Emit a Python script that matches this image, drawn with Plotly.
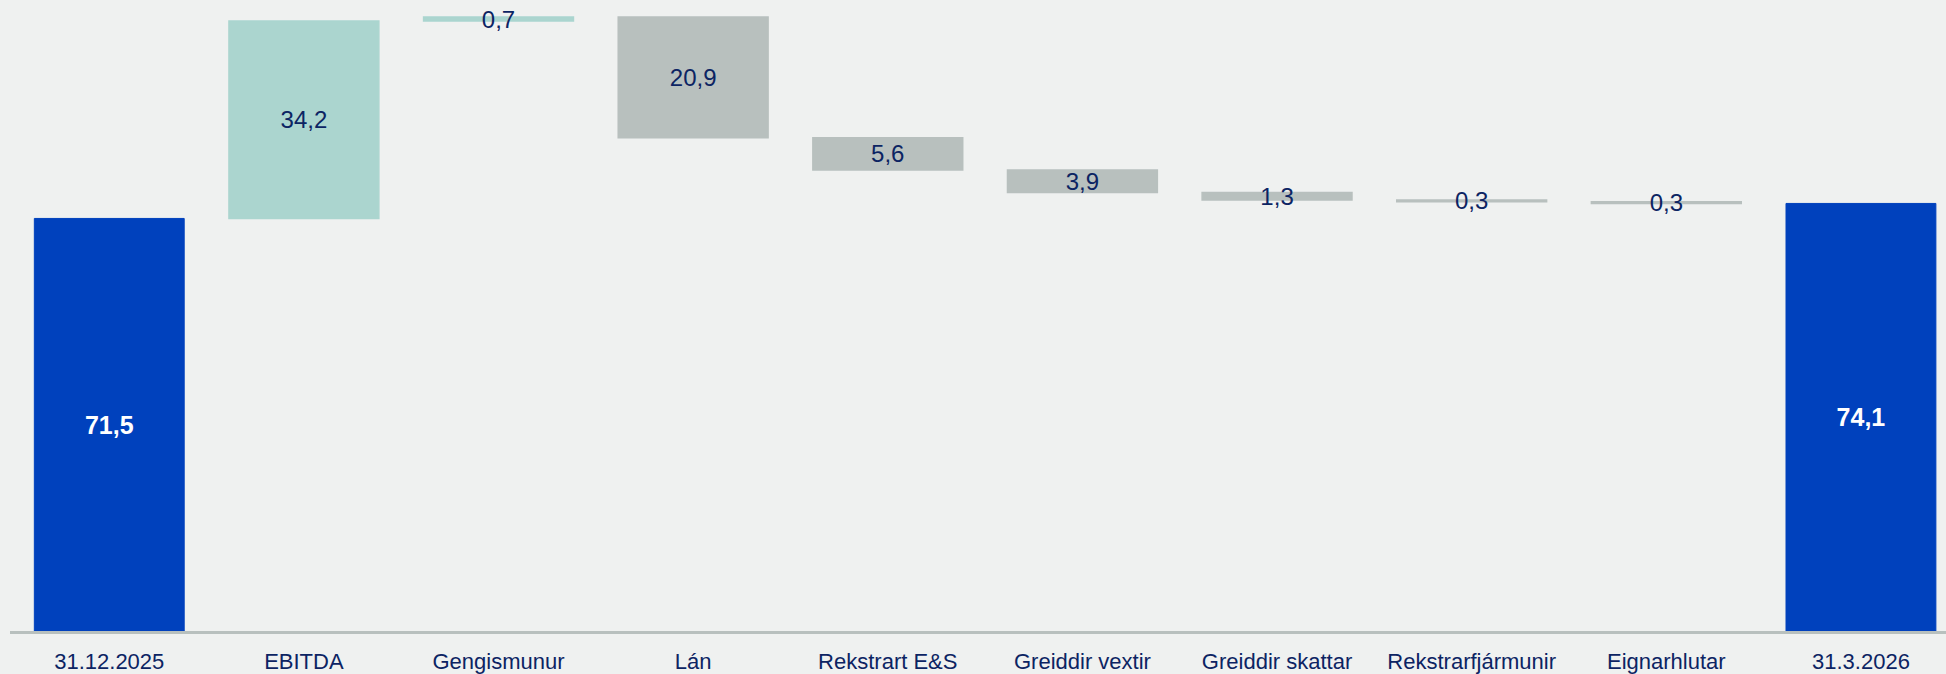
import plotly.graph_objects as go

categories = ["31.12.2025", "EBITDA", "Gengismunur", "Lán", "Rekstrart E&S",
              "Greiddir vextir", "Greiddir skattar", "Rekstrarfjármunir",
              "Eignarhlutar", "31.3.2026"]
values = [71.5, 34.2, 0.7, -20.9, -5.6, -3.9, -1.3, -0.3, -0.3, 74.1]
measures = ["absolute", "relative", "relative", "relative", "relative",
            "relative", "relative", "relative", "relative", "total"]

labels = [f"{abs(v):.1f}".replace(".", ",") for v in values]
texts = [f"<b>{t}</b>" if m != "relative" else t for t, m in zip(labels, measures)]
text_colors = ["#ffffff" if m != "relative" else "#0c2463" for m in measures]
text_sizes = [25 if m != "relative" else 24 for m in measures]

BG = "#eff1f0"
BLUE = "#0041bd"
TEAL = "#abd5cf"
GRAY = "#b8c0be"

fig = go.Figure(go.Waterfall(
    x=categories,
    y=[v if m != "total" else 0 for v, m in zip(values, measures)],
    measure=measures,
    text=texts,
    textposition="inside",
    insidetextanchor="middle",
    textangle=0,
    constraintext="none",
    insidetextfont=dict(family="Liberation Sans, Arial, sans-serif",
                        color=text_colors, size=text_sizes),
    increasing=dict(marker=dict(color=TEAL, line=dict(color=TEAL, width=1.5))),
    decreasing=dict(marker=dict(color=GRAY, line=dict(color=GRAY, width=1.5))),
    totals=dict(marker=dict(color=BLUE, line=dict(color=BLUE, width=1))),
    connector=dict(visible=False),
    hoverinfo="skip",
))

fig.update_layout(
    width=1946, height=674,
    margin=dict(l=10, r=0, t=0, b=43),
    paper_bgcolor=BG, plot_bgcolor=BG,
    waterfallgap=0.23,
    showlegend=False,
    font=dict(family="Liberation Sans, Arial, sans-serif", color="#0c2463", size=22),
    xaxis=dict(
        type="category",
        range=[-0.51, 9.437],
        showline=True, linecolor=GRAY, linewidth=3,
        showgrid=False, zeroline=False, ticks="",
        tickfont=dict(size=22, color="#0c2463"),
        ticklabelstandoff=9,
    ),
    yaxis=dict(
        range=[0, 109.36],
        visible=False, showgrid=False, zeroline=False,
    ),
)

fig.write_html(
    "out.html",
    config={"displayModeBar": False},
    post_script="document.body.style.margin='0';document.body.style.background='#eff1f0';document.body.style.overflow='hidden';",
)
